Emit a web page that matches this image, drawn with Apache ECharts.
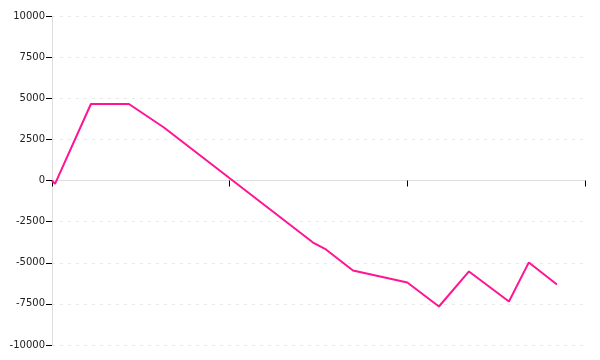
<!DOCTYPE html>
<html><head><meta charset="utf-8">
<script src="https://cdn.jsdelivr.net/npm/echarts@6/dist/echarts.min.js"></script>
<style>html,body{margin:0;padding:0;background:#fff}#c{width:600px;height:360px}</style>
</head><body><div id="c"></div>
<script>
var xValues = [0, 1.7, 21.9, 43.3, 63, 146.9, 154.2, 169.4, 200, 217.8, 234.7, 257.2, 268.4, 284.2];
var yValues = [0, -210, 4650, 4650, 3220, -3770, -4190, -5470, -6200, -7660, -5530, -7360, -4980, -6320];
var yTicks = [-10000, -7500, -5000, -2500, 0, 2500, 5000, 7500, 10000];

var data = xValues.map(function (x, i) { return [x, yValues[i]]; });
var chart = echarts.init(document.getElementById('c'), null, {renderer: 'canvas'});
chart.setOption({
  animation: false,
  grid: {left: 52, right: 15, top: 16, bottom: 15, containLabel: false},
  xAxis: {
    type: 'value', min: 0, max: 300, interval: 100,
    axisLine: {onZero: true, lineStyle: {color: '#dddddd', width: 1}},
    axisTick: {show: true, length: 6, lineStyle: {color: '#000', width: 1}},
    axisLabel: {show: false},
    splitLine: {show: false}
  },
  yAxis: {
    type: 'value', min: yTicks[0], max: yTicks[yTicks.length - 1], interval: 2500,
    axisLine: {show: true, lineStyle: {color: '#dddddd', width: 1}},
    axisTick: {show: true, length: 6, lineStyle: {color: '#000', width: 1}},
    axisLabel: {color: '#222', fontFamily: 'DejaVu Sans', fontSize: 10, margin: 7,
      formatter: function (v) { return String(v); }},
    splitLine: {show: true, lineStyle: {color: '#e8e8e8', type: [3, 5]}}
  },
  series: [{
    type: 'line', data: data, showSymbol: false, symbol: 'none',
    lineStyle: {color: '#ff1493', width: 2}
  }]
});
</script></body></html>
